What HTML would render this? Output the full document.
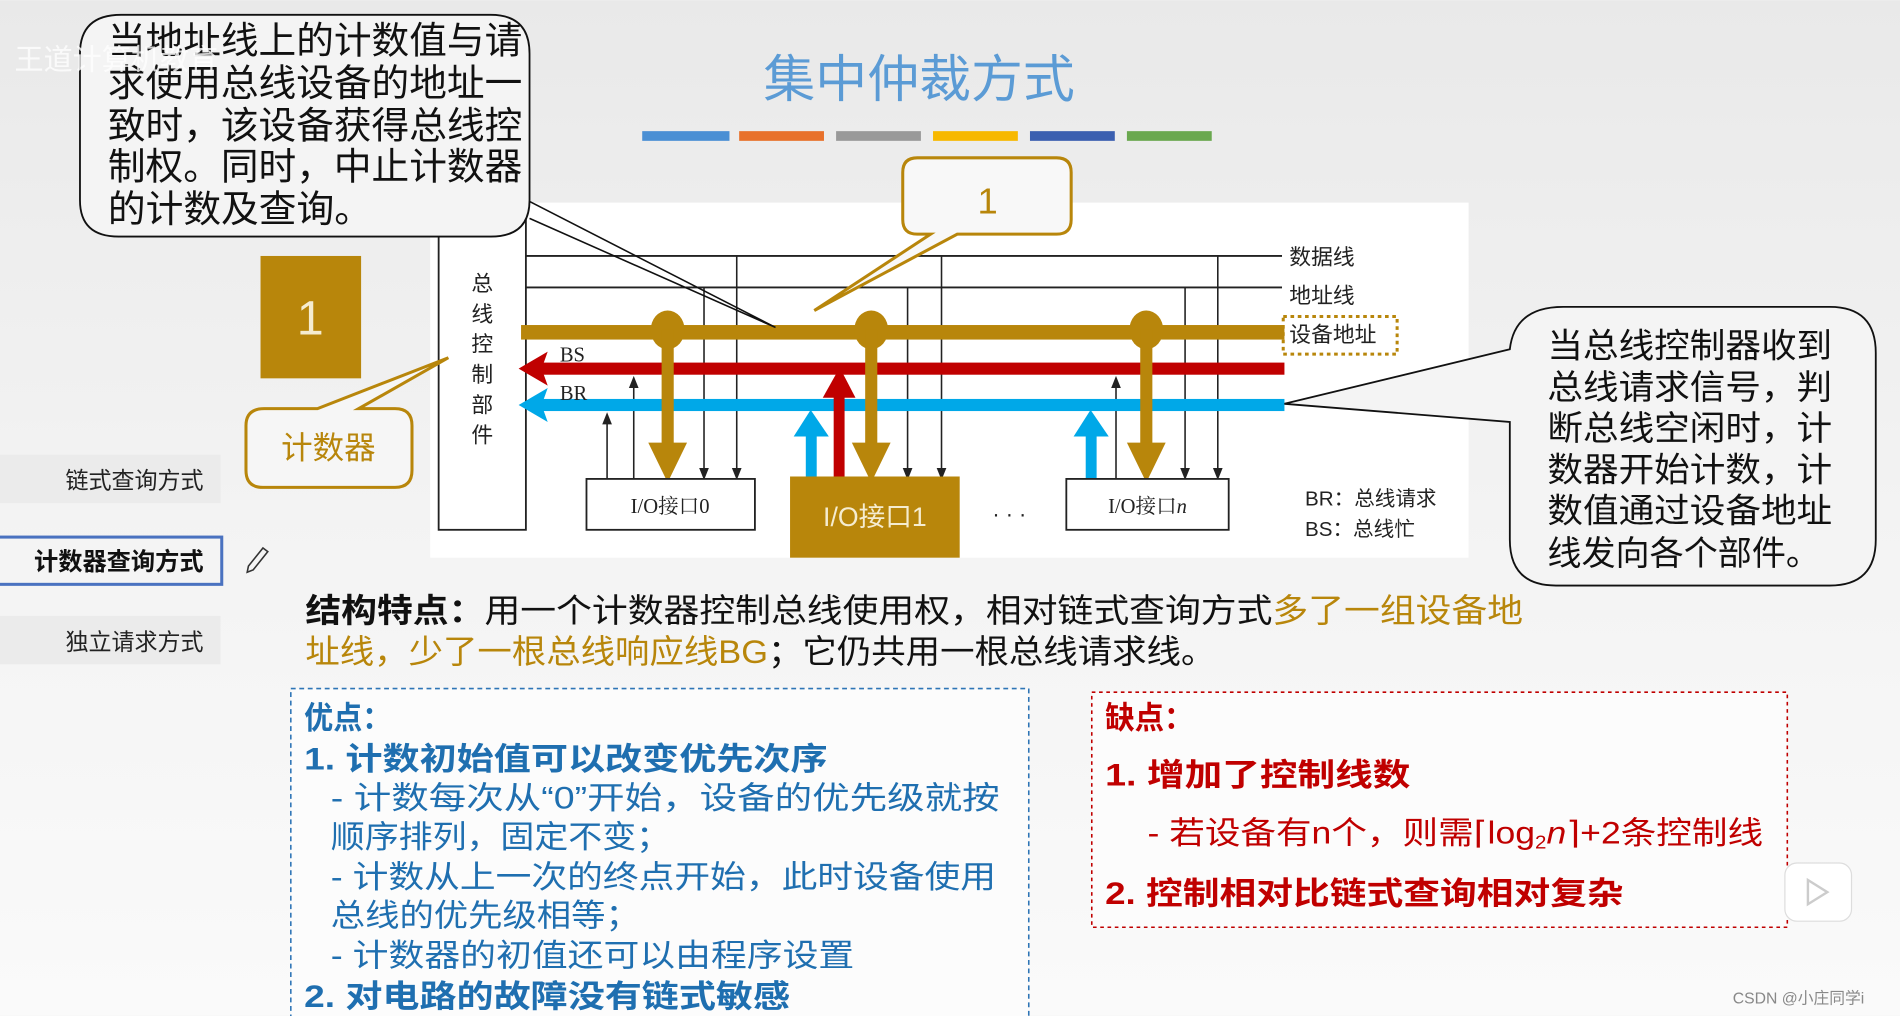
<!DOCTYPE html>
<html><head><meta charset="utf-8">
<style>
html,body{margin:0;padding:0;width:1900px;height:1016px;overflow:hidden;background:#f2f2f2}
svg{display:block}
text{font-family:"Liberation Sans","Noto Sans CJK SC",sans-serif}
.serif{font-family:"Liberation Serif","Noto Serif CJK SC","Noto Sans CJK SC",serif}
</style></head><body>
<svg width="1900" height="1016" viewBox="0 0 1568 838" xmlns="http://www.w3.org/2000/svg">
<defs>
<linearGradient id="bg" x1="0" y1="0" x2="0" y2="1">
<stop offset="0" stop-color="#e9e9e9"/><stop offset="0.5" stop-color="#f3f3f3"/><stop offset="1" stop-color="#fafafa"/>
</linearGradient>
</defs>
<rect width="1568" height="838" fill="url(#bg)"/>

<!-- title -->
<text x="630" y="80" font-size="42" fill="#5b9bd5" textLength="257" lengthAdjust="spacingAndGlyphs">集中仲裁方式</text>
<rect x="530" y="108" width="72" height="8" fill="#4a8fd4"/>
<rect x="610" y="108" width="70" height="8" fill="#e8712b"/>
<rect x="690" y="108" width="70" height="8" fill="#999"/>
<rect x="770" y="108" width="70" height="8" fill="#f7b800"/>
<rect x="850" y="108" width="70" height="8" fill="#3b5fb0"/>
<rect x="930" y="108" width="70" height="8" fill="#6aa84f"/>

<!-- diagram white area -->
<rect x="355" y="167" width="857" height="293" fill="#fff"/>

<!-- bus controller -->
<rect x="362" y="172" width="72" height="265" fill="#fff" stroke="#222" stroke-width="1.5"/>
<g font-size="18" fill="#222" text-anchor="middle" class="serif">
<text x="398" y="240">总</text><text x="398" y="265">线</text><text x="398" y="290">控</text>
<text x="398" y="315">制</text><text x="398" y="340">部</text><text x="398" y="365">件</text>
</g>

<!-- data & address lines -->
<line x1="434" y1="211" x2="1058" y2="211" stroke="#222" stroke-width="1.5"/>
<line x1="434" y1="237" x2="1058" y2="237" stroke="#222" stroke-width="1.5"/>
<g font-size="18" fill="#222"><text x="1064" y="218">数据线</text><text x="1064" y="250">地址线</text><text x="1064" y="282">设备地址</text></g>
<rect x="1059" y="261" width="94" height="31" fill="none" stroke="#b8860b" stroke-width="2.5" stroke-dasharray="3,3"/>

<!-- thin verticals -->
<g stroke="#222" stroke-width="1.3">
<line x1="608" y1="211" x2="608" y2="392"/><line x1="581" y1="237" x2="581" y2="392"/>
<line x1="777" y1="211" x2="777" y2="392"/><line x1="749" y1="237" x2="749" y2="392"/>
<line x1="1005" y1="211" x2="1005" y2="392"/><line x1="978" y1="237" x2="978" y2="392"/>
<line x1="501" y1="395" x2="501" y2="342"/><line x1="523" y1="395" x2="523" y2="312"/>
<line x1="921" y1="395" x2="921" y2="312"/>
</g>
<g fill="#222">
<polygon points="608,396 604,386 612,386"/><polygon points="581,396 577,386 585,386"/>
<polygon points="777,396 773,386 781,386"/><polygon points="749,396 745,386 753,386"/>
<polygon points="1005,396 1001,386 1009,386"/><polygon points="978,396 974,386 982,386"/>
<polygon points="501,340 497,350 505,350"/><polygon points="523,310 519,320 527,320"/>
<polygon points="921,310 917,320 925,320"/>
</g>

<!-- gold bus -->
<rect x="430" y="268" width="630" height="12" fill="#b8860b"/>
<!-- red BS -->
<rect x="445" y="299" width="615" height="10" fill="#c00000"/>
<polygon points="428,304 452,290 447,304 452,318" fill="#c00000"/>
<text x="462" y="298" font-size="17" fill="#222" class="serif">BS</text>
<!-- blue BR -->
<rect x="445" y="329" width="615" height="10" fill="#00a8e8"/>
<polygon points="428,334 452,320 447,334 452,348" fill="#00a8e8"/>
<text x="462" y="330" font-size="17" fill="#222" class="serif">BR</text>

<!-- gold taps -->
<g fill="#b8860b">
<ellipse cx="551" cy="272" rx="14" ry="16"/><rect x="546" y="272" width="10" height="100"/>
<polygon points="535,365 567,365 551,398"/>
<ellipse cx="719" cy="272" rx="14" ry="16"/><rect x="714" y="272" width="10" height="100"/><polygon points="703,365 735,365 719,398"/>
<ellipse cx="946" cy="272" rx="14" ry="16"/><rect x="941" y="272" width="10" height="100"/><polygon points="930,365 962,365 946,398"/>
</g>
<!-- up arrows -->
<rect x="665" y="355" width="9" height="40" fill="#00a8e8"/><polygon points="655,360 684,360 669,338" fill="#00a8e8"/>
<rect x="688" y="322" width="9" height="73" fill="#c00000"/><polygon points="679,328 706,328 693,303" fill="#c00000"/>
<rect x="896" y="355" width="9" height="48" fill="#00a8e8"/><polygon points="886,360 915,360 900,338" fill="#00a8e8"/>

<!-- IO boxes -->
<rect x="484" y="395" width="139" height="42" fill="#fff" stroke="#222" stroke-width="1.5"/>
<text x="553" y="423" font-size="17" fill="#222" text-anchor="middle" class="serif">I/O接口0</text>
<rect x="652" y="393" width="140" height="67" fill="#b8860b"/>
<text x="722" y="434" font-size="22" fill="#f5ecd0" text-anchor="middle">I/O接口1</text>
<text x="833" y="430" font-size="18" fill="#222" text-anchor="middle">· · ·</text>
<rect x="880" y="395" width="134" height="42" fill="#fff" stroke="#222" stroke-width="1.5"/>
<text x="947" y="423" font-size="17" fill="#222" text-anchor="middle" class="serif">I/O接口<tspan font-style="italic">n</tspan></text>
<g font-size="17" fill="#222" class="serif"><text x="1077" y="417">BR：总线请求</text><text x="1077" y="442">BS：总线忙</text></g>

<!-- top-left callout -->
<path d="M100,12 H405 Q437,12 437,44 V165 Q437,195 405,195 H98 Q66,195 66,165 V44 Q66,12 100,12 Z" fill="#f4f4f4" stroke="#111" stroke-width="1.5"/>
<path d="M437,166 L640,270 L437,180" fill="none" stroke="#111" stroke-width="1.3"/>
<g font-size="31" fill="#111">
<text x="89" y="44" textLength="342" lengthAdjust="spacingAndGlyphs">当地址线上的计数值与请</text>
<text x="89" y="79" textLength="342" lengthAdjust="spacingAndGlyphs">求使用总线设备的地址一</text>
<text x="89" y="114" textLength="342" lengthAdjust="spacingAndGlyphs">致时，该设备获得总线控</text>
<text x="89" y="148" textLength="342" lengthAdjust="spacingAndGlyphs">制权。同时，中止计数器</text>
<text x="89" y="183" textLength="218" lengthAdjust="spacingAndGlyphs">的计数及查询。</text>
</g>
<text x="12" y="57" font-size="24" fill="#fff" opacity="0.8">王道计算机教育</text>

<!-- gold square 1 -->
<rect x="215" y="211" width="83" height="101" fill="#b8860b"/>
<text x="256" y="276" font-size="40" fill="#f5ecd0" text-anchor="middle">1</text>

<!-- 计数器 callout -->
<path d="M218,337 H262 L370,295 L296,337 H326 Q340,337 340,351 V388 Q340,402 326,402 H217 Q203,402 203,388 V351 Q203,337 218,337 Z" fill="#f6f6f6" stroke="#b8860b" stroke-width="2.5"/>
<text x="271" y="378" font-size="26" fill="#b8860b" text-anchor="middle">计数器</text>

<!-- 1 callout -->
<path d="M757,130 H872 Q884,130 884,142 V181 Q884,193 872,193 H790 L672,256 L768,193 H757 Q745,193 745,181 V142 Q745,130 757,130 Z" fill="#f8f8f8" stroke="#b8860b" stroke-width="2.5"/>
<text x="815" y="176" font-size="30" fill="#b8860b" text-anchor="middle">1</text>

<!-- right callout -->
<path d="M1290,253 H1510 Q1548,253 1548,291 V445 Q1548,483 1510,483 H1284 Q1246,483 1246,445 V348 L1060,333 L1246,288 Q1250,253 1290,253 Z" fill="#f4f4f4" stroke="#111" stroke-width="1.5"/>
<g font-size="28" fill="#111">
<text x="1277" y="295" textLength="235" lengthAdjust="spacingAndGlyphs">当总线控制器收到</text>
<text x="1277" y="329" textLength="235" lengthAdjust="spacingAndGlyphs">总线请求信号，判</text>
<text x="1277" y="363" textLength="235" lengthAdjust="spacingAndGlyphs">断总线空闲时，计</text>
<text x="1277" y="397" textLength="235" lengthAdjust="spacingAndGlyphs">数器开始计数，计</text>
<text x="1277" y="431" textLength="235" lengthAdjust="spacingAndGlyphs">数值通过设备地址</text>
<text x="1277" y="466" textLength="225" lengthAdjust="spacingAndGlyphs">线发向各个部件。</text>
</g>

<!-- left nav -->
<rect x="0" y="375" width="182" height="40" fill="#ebebeb"/>
<text x="168" y="403" font-size="19" fill="#222" text-anchor="end">链式查询方式</text>
<rect x="-2" y="443" width="185" height="39" fill="#f4f4f4" stroke="#4a72c0" stroke-width="2.5"/>
<text x="168" y="470" font-size="20" fill="#111" font-weight="bold" text-anchor="end">计数器查询方式</text>
<path d="M205,467 L217,452 L221,455 L209,470 L204,472 Z" fill="none" stroke="#333" stroke-width="1.3"/>
<rect x="0" y="508" width="182" height="40" fill="#ebebeb"/>
<text x="168" y="536" font-size="19" fill="#222" text-anchor="end">独立请求方式</text>

<!-- structure text -->
<g font-size="27">
<text x="252" y="513" fill="#111" textLength="1005" lengthAdjust="spacingAndGlyphs"><tspan font-weight="bold">结构特点：</tspan>用一个计数器控制总线使用权，相对链式查询方式<tspan fill="#b8860b">多了一组设备地</tspan></text>
<text x="252" y="547" fill="#b8860b" textLength="751" lengthAdjust="spacingAndGlyphs">址线，少了一根总线响应线BG<tspan fill="#111">；它仍共用一根总线请求线。</tspan></text>
</g>

<!-- advantages -->
<rect x="240" y="568" width="609" height="280" fill="#fcfcfc" stroke="#2e75b6" stroke-width="1.3" stroke-dasharray="4,3"/>
<g font-size="26" fill="#1f6fb0" lengthAdjust="spacingAndGlyphs">
<text x="251" y="601" font-weight="bold" textLength="72" lengthAdjust="spacingAndGlyphs">优点：</text>
<text x="251" y="635" font-weight="bold" textLength="432" lengthAdjust="spacingAndGlyphs">1.   计数初始值可以改变优先次序</text>
<text x="273" y="667" textLength="552" lengthAdjust="spacingAndGlyphs">- 计数每次从“0”开始，设备的优先级就按</text>
<text x="273" y="699" textLength="280" lengthAdjust="spacingAndGlyphs">顺序排列，固定不变；</text>
<text x="273" y="732" textLength="549" lengthAdjust="spacingAndGlyphs">- 计数从上一次的终点开始，此时设备使用</text>
<text x="273" y="764" textLength="255" lengthAdjust="spacingAndGlyphs">总线的优先级相等；</text>
<text x="273" y="797" textLength="432" lengthAdjust="spacingAndGlyphs">- 计数器的初值还可以由程序设置</text>
<text x="251" y="831" font-weight="bold" textLength="401" lengthAdjust="spacingAndGlyphs">2.   对电路的故障没有链式敏感</text>
</g>

<!-- disadvantages -->
<rect x="901" y="571" width="574" height="194" fill="#fcfcfc" stroke="#c00000" stroke-width="1.3" stroke-dasharray="3,3"/>
<g font-size="26" fill="#c00000">
<text x="912" y="601" font-weight="bold" textLength="73" lengthAdjust="spacingAndGlyphs">缺点：</text>
<text x="912" y="648" font-weight="bold" textLength="252" lengthAdjust="spacingAndGlyphs">1.   增加了控制线数</text>
<text x="947" y="696" textLength="508" lengthAdjust="spacingAndGlyphs">- 若设备有n个，则需⌈log<tspan font-size="15" dy="4">2</tspan><tspan dy="-4" font-style="italic">n</tspan>⌉+2条控制线</text>
<text x="912" y="746" font-weight="bold" textLength="428" lengthAdjust="spacingAndGlyphs">2.   控制相对比链式查询相对复杂</text>
</g>

<rect x="1473" y="712" width="55" height="48" rx="10" fill="#fff" stroke="#ddd"/>
<path d="M1492,726 L1508,736 L1492,746 Z" fill="none" stroke="#ccc" stroke-width="2"/>
<text x="1430" y="828" font-size="13" fill="#888">CSDN @小庄同学i</text>
</svg>
</body></html>
